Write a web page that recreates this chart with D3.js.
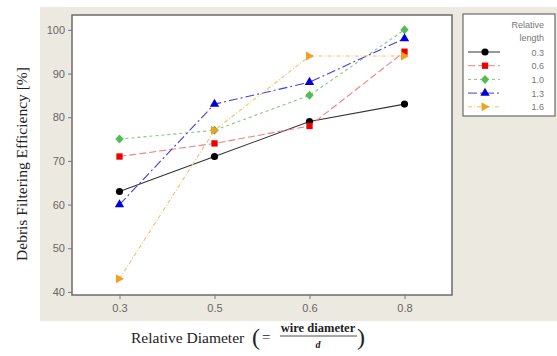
<!DOCTYPE html>
<html>
<head>
<meta charset="utf-8">
<script src="https://cdn.jsdelivr.net/npm/d3@7"></script>
<style>
  body { margin: 0; background: #fff; }
  svg { display: block; }
</style>
</head>
<body>
<svg id="chart" width="557" height="356"></svg>
<script>
// chart data
const categories = ['0.3', '0.5', '0.6', '0.8'];
const yTicks = [40, 50, 60, 70, 80, 90, 100];
const seriesNames = ['0.3', '0.6', '1.0', '1.3', '1.6'];
const len03 = [63, 71, 79, 83];
const len06 = [71, 74, 78, 95];
const len10 = [75, 77, 85, 100];
const len13 = [60, 83, 88, 98];
const len16 = [43, 77, 94, 94];

const styles = [
  { color: '#000000', line: '#333333', dash: null, symbol: d3.symbolCircle },
  { color: '#ee0000', line: '#f08080', dash: '7,3', symbol: d3.symbolSquare },
  { color: '#55bb55', line: '#80c880', dash: '3,3', symbol: 'diamond' },
  { color: '#0000dd', line: '#4040e0', dash: '9,3,2,3', symbol: d3.symbolTriangle },
  { color: '#f0a020', line: '#f5be6a', dash: '4,2,1,2', symbol: 'right' }
];
const series = [len03, len06, len10, len13, len16].map((v, i) => ({ name: seriesNames[i], values: v, style: styles[i] }));

const svg = d3.select('#chart');
const plot = { left: 72, top: 15, right: 452, bottom: 295 };

// beige panel
svg.append('rect').attr('x', 40).attr('y', 7).attr('width', 517).attr('height', 314).attr('fill', '#ece9e1');

const x = d3.scalePoint().domain(categories).range([plot.left, plot.right]).padding(0.5);
const y = d3.scaleLinear().domain([39.3, 103.4]).range([plot.bottom, plot.top]);

svg.append('rect')
  .attr('x', plot.left).attr('y', plot.top)
  .attr('width', plot.right - plot.left).attr('height', plot.bottom - plot.top)
  .attr('fill', '#fff').attr('stroke', '#6b6b6b').attr('stroke-width', 1.5);

// axes
const yAxis = svg.append('g')
  .attr('transform', `translate(${plot.left},0)`)
  .call(d3.axisLeft(y).tickValues(yTicks).tickSize(4).tickPadding(3));
const xAxis = svg.append('g')
  .attr('transform', `translate(0,${plot.bottom})`)
  .call(d3.axisBottom(x).tickSize(4).tickPadding(5));
[xAxis, yAxis].forEach((g) => {
  g.select('.domain').remove();
  g.selectAll('line').attr('stroke', '#777');
  g.selectAll('text').attr('fill', '#666').style('font-family', 'Liberation Sans, Arial, sans-serif').style('font-size', '11px');
});

const symbolPath = (sym) => {
  if (sym === 'right') return 'M-3.5,-4.5L4.5,0L-3.5,4.5Z';
  if (sym === 'diamond') return 'M0,-4.5L4.2,0L0,4.5L-4.2,0Z';
  return d3.symbol().type(sym).size(sym === d3.symbolTriangle ? 38 : 40)();
};

const line = d3.line().x((d, i) => x(categories[i])).y((d) => y(d));

series.forEach((s) => {
  svg.append('path')
    .datum(s.values)
    .attr('d', line)
    .attr('fill', 'none')
    .attr('stroke', s.style.line)
    .attr('stroke-width', 1.1)
    .attr('stroke-dasharray', s.style.dash);
  svg.append('g')
    .selectAll('path')
    .data(s.values)
    .enter()
    .append('path')
    .attr('d', symbolPath(s.style.symbol))
    .attr('transform', (d, i) => `translate(${x(categories[i])},${y(d)})`)
    .attr('fill', s.style.color);
});

// legend
const legend = svg.append('g');
legend.append('rect').attr('x', 463).attr('y', 14).attr('width', 92).attr('height', 102)
  .attr('fill', '#fff').attr('stroke', '#6b6b6b').attr('stroke-width', 1.2);
const legFont = 'Liberation Sans, Arial, sans-serif';
legend.append('text').attr('x', 544).attr('y', 28).attr('text-anchor', 'end')
  .attr('fill', '#777').style('font-family', legFont).style('font-size', '9px').text('Relative');
legend.append('text').attr('x', 544).attr('y', 41).attr('text-anchor', 'end')
  .attr('fill', '#777').style('font-family', legFont).style('font-size', '9px').text('length');
series.forEach((s, i) => {
  const ly = 52 + i * 13.7;
  legend.append('line').attr('x1', 468).attr('x2', 500).attr('y1', ly).attr('y2', ly)
    .attr('stroke', s.style.line).attr('stroke-width', 1).attr('stroke-dasharray', s.style.dash);
  legend.append('path').attr('d', symbolPath(s.style.symbol))
    .attr('transform', `translate(485,${ly})`).attr('fill', s.style.color);
  legend.append('text').attr('x', 544).attr('y', ly + 3.5).attr('text-anchor', 'end')
    .attr('fill', '#777').style('font-family', legFont).style('font-size', '9px').text(s.name);
});

// axis titles
const serif = 'Liberation Serif, Times New Roman, serif';
svg.append('text')
  .attr('transform', 'translate(27,164) rotate(-90)')
  .attr('text-anchor', 'middle')
  .attr('fill', '#222')
  .style('font-family', serif).style('font-size', '15.5px')
  .text('Debris Filtering Efficiency [%]');

const xt = svg.append('g').style('font-family', serif).attr('fill', '#222');
xt.append('text').attr('x', 131).attr('y', 343).style('font-size', '15.5px').text('Relative Diameter');
xt.append('text').attr('x', 252).attr('y', 345).style('font-size', '24px').attr('font-weight', 300).text('(');
xt.append('text').attr('x', 262).attr('y', 342).style('font-size', '15px').text('=');
xt.append('text').attr('x', 318).attr('y', 332).attr('text-anchor', 'middle').attr('font-weight', 'bold').style('font-size', '12.5px').text('wire diameter');
xt.append('line').attr('x1', 280).attr('x2', 357).attr('y1', 336).attr('y2', 336).attr('stroke', '#222').attr('stroke-width', 0.8);
xt.append('text').attr('x', 318).attr('y', 348).attr('text-anchor', 'middle').attr('font-style', 'italic').attr('font-weight', 'bold').style('font-size', '10px').text('d');
xt.append('text').attr('x', 357).attr('y', 345).style('font-size', '24px').text(')');
</script>
</body>
</html>
